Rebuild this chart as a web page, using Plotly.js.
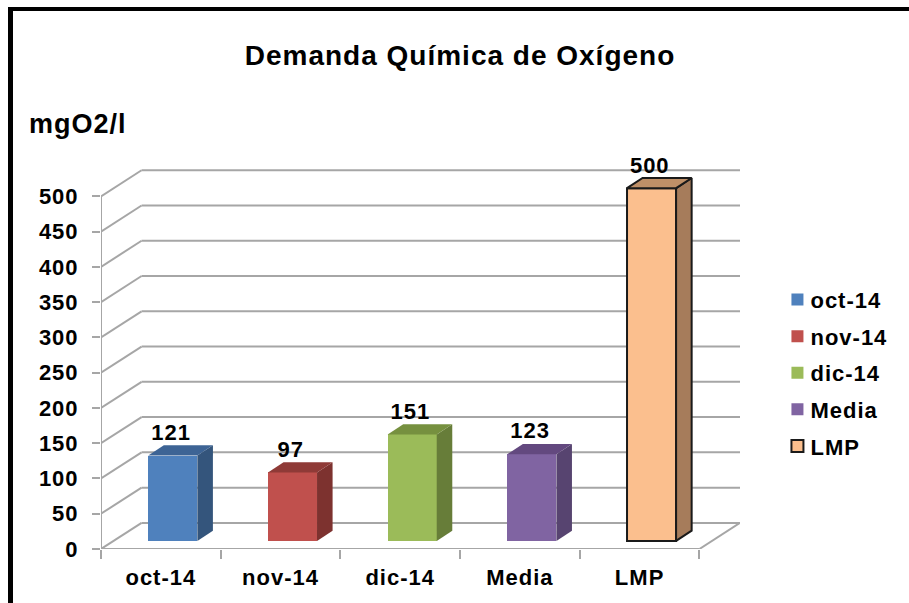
<!DOCTYPE html>
<html>
<head>
<meta charset="utf-8">
<script src="https://cdn.plot.ly/plotly-3.0.1.min.js"></script>
<style>
    html, body { margin: 0; padding: 0; background: #fff; }
    #frame { position: absolute; left: 8px; top: 7px; right: 0; bottom: 0; border-left: 5px solid #000; border-top: 4px solid #000; }
    #chart { position: absolute; left: 0; top: 0; width: 909px; height: 603px; }
    #chart text { letter-spacing: 1px; }
    #chart .legendtext { transform: translateX(-7px); }
</style>
</head>
<body>
<div id="frame"></div>
<div id="chart"></div>
<script>
// Chart data
const categories = ['oct-14', 'nov-14', 'dic-14', 'Media', 'LMP'];
const values = [121, 97, 151, 123, 500];
const yTicks = [0, 50, 100, 150, 200, 250, 300, 350, 400, 450, 500];
const frontColors = ['#4f81bd', '#c0504d', '#9bbb59', '#8064a2', '#fbbf8e'];
const sideColors = ['#34557c', '#7d322f', '#677d39', '#574470', '#a67c5b'];
const topColors = ['#3d6495', '#8f3a37', '#76903f', '#63497f', '#bf9068'];
const edgeColors = [null, null, null, null, '#1a1a1a'];

// 3D look, in axis units (1 category wide, y in mg/l)
const wallDx = 0.339;
const wallDy = 37;
const barOffsetX = 0.1;
const barOffsetY = 11.5;
const barWidth = 0.41;
const barDepthX = 0.13;
const barDepthY = 14.5;
const labelLift = 30;
const yMax = 560; // leaves room for the label over the tallest bar
const gridColor = '#a6a6a6';
const axisFont = { family: 'Liberation Sans, Arial, sans-serif', size: 22, color: '#000', weight: 700 };

const n = categories.length;
const traces = [];

categories.forEach((cat, i) => {
    const left = i + 0.5 + barOffsetX - barWidth / 2;
    const right = left + barWidth;
    const bottom = barOffsetY;
    const top = barOffsetY + values[i];
    const edge = edgeColors[i];

    traces.push({
        type: 'bar',
        name: cat,
        x: [i + 0.5 + barOffsetX],
        y: [values[i]],
        base: [barOffsetY],
        width: [barWidth],
        legendgroup: cat,
        marker: { color: frontColors[i], line: { color: edge || frontColors[i], width: edge ? 2 : 0 } },
        hoverinfo: 'skip'
    });
    // side face
    traces.push({
        type: 'scatter', mode: 'lines', showlegend: false, hoverinfo: 'skip',
        x: [right, right + barDepthX, right + barDepthX, right, right],
        y: [bottom, bottom + barDepthY, top + barDepthY, top, bottom],
        fill: 'toself', fillcolor: sideColors[i],
        line: { color: edge || sideColors[i], width: edge ? 2 : 0 }
    });
    // top face
    traces.push({
        type: 'scatter', mode: 'lines', showlegend: false, hoverinfo: 'skip',
        x: [left, left + barDepthX, right + barDepthX, right, left],
        y: [top, top + barDepthY, top + barDepthY, top, top],
        fill: 'toself', fillcolor: topColors[i],
        line: { color: edge || topColors[i], width: edge ? 2 : 0 }
    });
});

// value labels
traces.push({
    type: 'scatter', mode: 'text', showlegend: false, hoverinfo: 'skip',
    x: categories.map((c, i) => i + 0.5 + barOffsetX - 0.015),
    y: values.map(v => v + barOffsetY + labelLift),
    text: values.map(String),
    textposition: 'middle center',
    textfont: axisFont,
    cliponaxis: false
});

// walls and floor, kept behind the bars
const lineShape = (x0, y0, x1, y1) => ({
    type: 'line', layer: 'below', xref: 'x', yref: 'y',
    x0: x0, y0: y0, x1: x1, y1: y1,
    line: { color: gridColor, width: 2 }
});
const shapes = [];
yTicks.forEach(t => {
    shapes.push(lineShape(0, t, wallDx, t + wallDy));
    shapes.push(lineShape(wallDx, t + wallDy, n + wallDx, t + wallDy));
});
shapes.push(lineShape(0, 0, 0, yTicks[yTicks.length - 1]));
shapes.push(lineShape(0, 0, n, 0));
shapes.push(lineShape(n, 0, n + wallDx, wallDy));

const layout = {
    width: 909,
    height: 603,
    paper_bgcolor: 'rgba(0,0,0,0)',
    plot_bgcolor: 'rgba(0,0,0,0)',
    margin: { l: 101, r: 169, t: 154.4, b: 54, pad: 0, autoexpand: false },
    title: {
        text: 'Demanda Química de Oxígeno',
        font: { family: axisFont.family, size: 28, color: '#000', weight: 700 },
        x: 460 / 909, xanchor: 'center',
        y: 1 - 55 / 603, yanchor: 'middle'
    },
    xaxis: {
        range: [0, n + wallDx],
        tickmode: 'array',
        tickvals: categories.map((c, i) => i + 0.5),
        ticktext: categories,
        ticks: '',
        showgrid: false,
        zeroline: false,
        showline: false,
        tickfont: axisFont,
        ticklabelstandoff: 13,
        minor: { tickmode: 'array', tickvals: [0, 1, 2, 3, 4, 5], ticks: 'outside', ticklen: 9, tickwidth: 2, tickcolor: gridColor, showgrid: false }
    },
    yaxis: {
        range: [0, yMax],
        tickmode: 'array',
        tickvals: yTicks,
        ticks: 'outside',
        ticklen: 8,
        tickwidth: 2,
        tickcolor: gridColor,
        showgrid: false,
        zeroline: false,
        showline: false,
        tickfont: axisFont,
        ticklabelstandoff: 9
    },
    annotations: [{
        text: 'mgO2/l',
        xref: 'paper', yref: 'paper',
        x: (78 - 101) / 639, y: (549 - 124) / 394.6,
        xanchor: 'center', yanchor: 'middle',
        showarrow: false,
        font: { family: axisFont.family, size: 27, color: '#000', weight: 700 }
    }],
    legend: {
        x: 1.0586, xanchor: 'left',
        y: 0.6842, yanchor: 'top',
        font: axisFont,
        tracegroupgap: 5,
        itemwidth: 30,
        bgcolor: 'rgba(0,0,0,0)'
    },
    shapes: shapes,
    bargap: 0,
    showlegend: true
};

Plotly.newPlot('chart', traces, layout, { displayModeBar: false, staticPlot: true });
</script>
</body>
</html>
